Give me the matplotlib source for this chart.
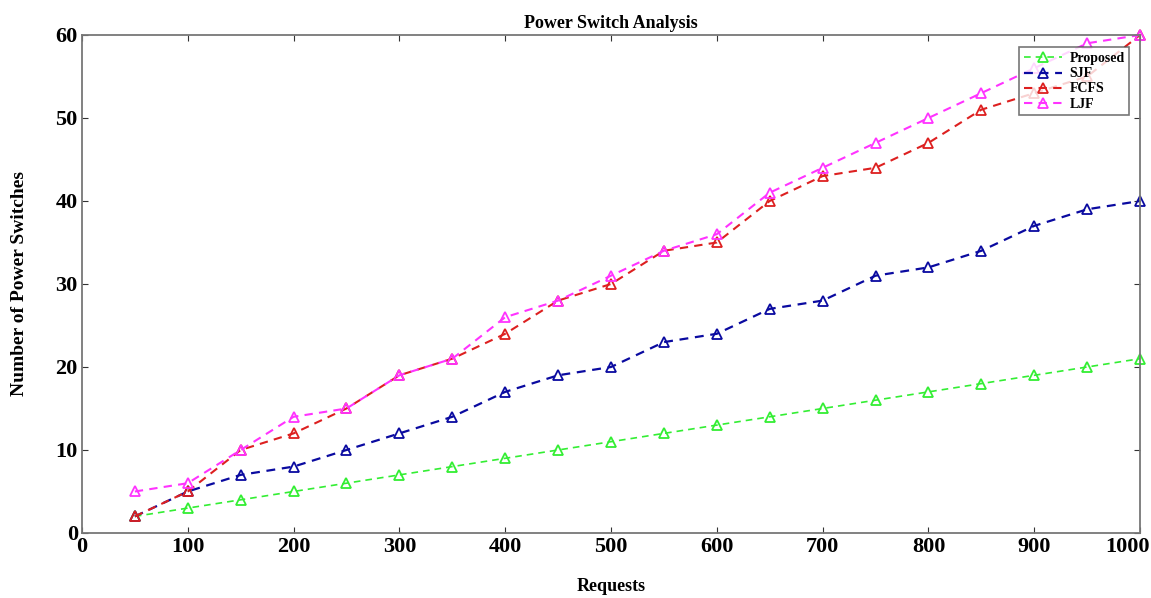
import matplotlib
matplotlib.use("Agg")
import matplotlib.pyplot as plt
import matplotlib.transforms as mtransforms

requests = [50, 100, 150, 200, 250, 300, 350, 400, 450, 500,
            550, 600, 650, 700, 750, 800, 850, 900, 950, 1000]
proposed = [2, 3, 4, 5, 6, 7, 8, 9, 10, 11, 12, 13, 14, 15, 16, 17, 18, 19, 20, 21]
sjf = [2, 5, 7, 8, 10, 12, 14, 17, 19, 20, 23, 24, 27, 28, 31, 32, 34, 37, 39, 40]
fcfs = [2, 5, 10, 12, 15, 19, 21, 24, 28, 30, 34, 35, 40, 43, 44, 47, 51, 53, 55, 60]
ljf = [5, 6, 10, 14, 15, 19, 21, 26, 28, 31, 34, 36, 41, 44, 47, 50, 53, 56, 59, 60]
series_names = ["Proposed", "SJF", "FCFS", "LJF"]
x_ticks = [0, 100, 200, 300, 400, 500, 600, 700, 800, 900, 1000]
y_ticks = [0, 10, 20, 30, 40, 50, 60]

plt.rcParams['font.family'] = ['Liberation Serif', 'DejaVu Serif']
plt.rcParams['font.weight'] = 'bold'

fig = plt.figure(figsize=(11.51, 5.98), dpi=100)
ax = fig.add_axes([0.0712, 0.1087, 0.9193, 0.8328])

colors = ['#33ee33', '#0a0aa0', '#dd2020', '#ff33ff']
lws = [1.2, 1.6, 1.5, 1.5]
for vals, name, c, lw in zip([proposed, sjf, fcfs, ljf], series_names, colors, lws):
    ax.plot(requests, vals, linestyle='--', color=c, lw=lw, marker='^',
            markersize=7, markerfacecolor='none', markeredgecolor=c,
            markeredgewidth=1.3, label=name, dashes=(4, 3), clip_on=False)

ax.set_xlim(0, 1000)
ax.set_ylim(0, 60)
ax.set_xticks(x_ticks)
ax.set_yticks(y_ticks)
ax.tick_params(direction='in', top=True, right=True, length=4, width=0.8,
               labelsize=16, colors='#333333', labelcolor='black', pad=3)
for lab in ax.get_xticklabels() + ax.get_yticklabels():
    lab.set_fontweight('bold')
last = ax.get_xticklabels()[-1]
last.set_transform(last.get_transform() +
                   mtransforms.ScaledTranslation(-0.13, 0, fig.dpi_scale_trans))

for s in ax.spines.values():
    s.set_color('#777777')
    s.set_linewidth(1.3)

ax.set_title("Power Switch Analysis", fontsize=13, fontweight='bold', pad=5)
ax.set_xlabel("Requests", fontsize=13, fontweight='bold', labelpad=15)
ax.set_ylabel("Number of Power Switches", fontsize=14, fontweight='bold', labelpad=20)

leg = ax.legend(loc='upper right', bbox_to_anchor=(0.99, 0.975), fontsize=10,
                frameon=True, fancybox=False, borderpad=0.35, labelspacing=0.15,
                handlelength=2.8, handletextpad=0.5, borderaxespad=0.0)
leg.get_frame().set_edgecolor('#555555')
leg.get_frame().set_linewidth(1.2)
for t in leg.get_texts():
    t.set_fontweight('bold')

fig.savefig("out.png", dpi=100)
